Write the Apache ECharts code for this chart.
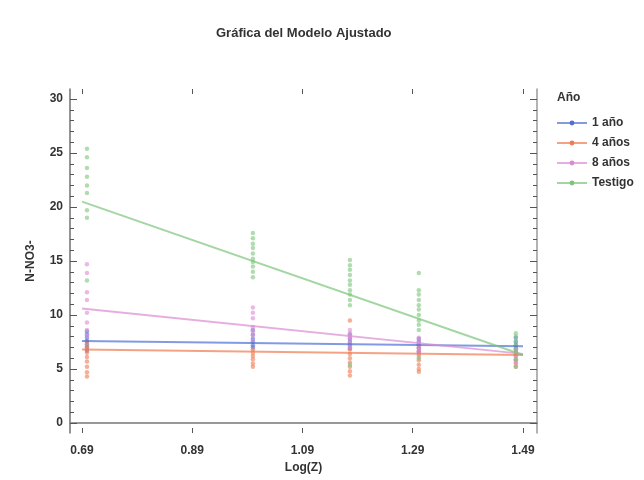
<!DOCTYPE html>
<html>
<head>
<meta charset="utf-8">
<script src="https://cdn.jsdelivr.net/npm/echarts@6/dist/echarts.min.js"></script>
<style>
  html, body { margin: 0; padding: 0; background: #ffffff; }
  #chart { width: 644px; height: 480px; }
</style>
</head>
<body>
<div id="chart"></div>
<script>
// Sampling depths on the log scale: log10 of 5, 10, 15, 20, 30
const depths = [0.699, 1.0, 1.176, 1.301, 1.477];
const xTickLabels = ['0.69', '0.89', '1.09', '1.29', '1.49'];
const yTickLabels = ['0', '5', '10', '15', '20', '25', '30'];
const groups = ['1 año', '4 años', '8 años', 'Testigo'];

// Fitted straight lines, evaluated at both ends of the labelled range
const fitX = [0.69, 1.49];
const fit1 = [7.6, 7.1];
const fit4 = [6.8, 6.3];
const fit8 = [10.6, 6.4];
const fitT = [20.5, 6.3];

// Observations, one list per depth
const obs1 = [
  [8.5, 8.2, 7.9, 7.6, 7.3, 7.0, 6.7],
  [8.6, 8.2, 7.8, 7.5, 7.2, 7.0],
  [8.2, 7.8, 7.5, 7.2, 6.9],
  [7.8, 7.5, 7.2, 6.9, 6.6],
  [7.9, 7.5, 7.2, 6.9, 6.5]
];
const obs4 = [
  [7.5, 7.1, 6.8, 6.5, 6.1, 5.7, 5.2, 4.7, 4.3],
  [6.8, 6.5, 6.2, 5.9, 5.5, 5.2],
  [9.5, 6.8, 6.4, 6.0, 5.6, 5.2, 4.8, 4.4],
  [7.0, 6.6, 6.2, 5.8, 5.4, 5.0, 4.75],
  [6.6, 6.2, 5.8, 5.5, 5.2]
];
const obs8 = [
  [14.7, 13.9, 12.1, 11.4, 10.2, 9.3, 8.6, 8.1],
  [10.7, 10.2, 9.7, 8.9, 8.5, 8.1, 7.6],
  [8.6, 8.3, 8.0, 7.7, 7.4, 7.0],
  [7.9, 7.6, 7.3, 7.0, 6.7, 6.4],
  [6.8, 6.5, 6.2, 5.9, 5.6]
];
const obsT = [
  [25.4, 24.6, 23.6, 22.8, 22.0, 21.3, 19.7, 19.0, 13.2],
  [17.6, 17.1, 16.6, 16.2, 15.7, 15.2, 14.9, 14.5, 14.0, 13.5],
  [15.1, 14.6, 14.2, 13.7, 13.2, 12.8, 12.3, 11.9, 11.4, 10.9, 5.4],
  [13.9, 12.3, 11.9, 11.4, 10.9, 10.5, 10.0, 9.5, 9.1, 8.6, 6.0],
  [8.3, 8.0, 7.6, 7.2, 6.8, 6.4, 5.9, 5.2]
];

const colors = ['#4d6fd6', '#f07a52', '#dc8ad2', '#7cc47c'];
const fits = [fit1, fit4, fit8, fitT];
const obs = [obs1, obs4, obs8, obsT];

// Plot frame, plus the box spanned by the labelled tick range
const W = 644, H = 480;
const frame = { left: 70, right: 107, top: 89, bottom: 47 };
const inner = { left: 82, right: 121, top: 99, bottom: 57 };
const xLo = 0.69, xHi = 1.49, yLo = 0, yHi = 30;
const pxX = (W - inner.left - inner.right) / (xHi - xLo);
const pxY = (H - inner.top - inner.bottom) / (yHi - yLo);
const xMin = xLo - (inner.left - frame.left) / pxX;
const xMax = xHi + (inner.right - frame.right) / pxX;
const yMin = yLo - (inner.bottom - frame.bottom) / pxY;
const yMax = yHi + (inner.top - frame.top) / pxY;

const font = 'Liberation Sans, Arial, sans-serif';
const txt = { fontFamily: font, fontSize: 12, fontWeight: 'bold', color: '#333' };
const darkLine = { show: true, lineStyle: { color: '#707070', width: 1.5 } };
const lightLine = { show: true, lineStyle: { color: '#9a9a9a', width: 1.5 } };
const tickStyle = { color: '#555', width: 1 };

function frameAxis(extra) {
  return Object.assign({
    type: 'value', gridIndex: 0,
    axisTick: { show: false }, axisLabel: { show: false },
    splitLine: { show: false }
  }, extra);
}
function hiddenAxis(gridIndex) {
  return { type: 'value', gridIndex: gridIndex, show: false, min: 0, max: 1 };
}

// Tick-only axes: y ticks live in grid 1 (frame width, tick height),
// x ticks in grid 2 (tick width, frame height)
function yTickAxis(pos, withLabels) {
  return {
    type: 'value', gridIndex: 1, position: pos,
    min: yLo, max: yHi, interval: 5,
    axisLine: { show: false }, splitLine: { show: false },
    axisTick: { inside: true, length: 7, lineStyle: tickStyle },
    minorTick: { show: true, splitNumber: 5, length: 4, lineStyle: tickStyle },
    axisLabel: withLabels
      ? Object.assign({ margin: 7, formatter: v => yTickLabels[Math.round(v / 5)] }, txt)
      : { show: false }
  };
}
function xTickAxis(pos, withLabels) {
  return {
    type: 'value', gridIndex: 2, position: pos,
    min: 0, max: xHi - xLo, interval: 0.2,
    axisLine: { show: false }, splitLine: { show: false },
    axisTick: { inside: true, length: 5, lineStyle: tickStyle },
    axisLabel: withLabels
      ? Object.assign({ margin: 12, formatter: v => xTickLabels[Math.round(v / 0.2)] }, txt)
      : { show: false }
  };
}

const series = [];
groups.forEach((g, i) => {
  series.push({
    name: g, type: 'line', xAxisIndex: 0, yAxisIndex: 0,
    data: fitX.map((x, k) => [x, fits[i][k]]),
    symbol: 'circle', symbolSize: 5, showSymbol: false,
    lineStyle: { color: colors[i], width: 2, opacity: 0.7 },
    itemStyle: { color: colors[i] },
    emphasis: { disabled: true }, z: 3
  });
});
groups.forEach((g, i) => {
  const pts = [];
  obs[i].forEach((vals, d) => vals.forEach(v => pts.push([depths[d], v])));
  series.push({
    name: g, type: 'scatter', xAxisIndex: 0, yAxisIndex: 0,
    data: pts, symbol: 'circle', symbolSize: 4.5,
    itemStyle: { color: colors[i], opacity: 0.6 },
    emphasis: { disabled: true }, z: 2
  });
});

const chart = echarts.init(document.getElementById('chart'), null, { renderer: 'canvas' });
chart.setOption({
  animation: false,
  backgroundColor: '#ffffff',
  title: [
    { text: 'Gráfica del Modelo Ajustado', left: 216, top: 27, padding: 0,
      textStyle: Object.assign({}, txt, { fontSize: 13 }) },
    { text: 'Año', left: 557, top: 92, padding: 0, textStyle: txt }
  ],
  legend: {
    orient: 'vertical', left: 556, top: 116, padding: 0,
    itemWidth: 30, itemHeight: 6, itemGap: 6,
    data: groups,
    textStyle: Object.assign({ lineHeight: 14 }, txt),
    selectedMode: false
  },
  grid: [
    Object.assign({}, frame),
    { left: frame.left, right: frame.right, top: inner.top, bottom: inner.bottom },
    { left: inner.left, right: inner.right, top: frame.top, bottom: frame.bottom }
  ],
  xAxis: [
    frameAxis({ position: 'bottom', min: xMin, max: xMax, axisLine: darkLine,
      name: 'Log(Z)', nameLocation: 'middle', nameGap: 29, nameTextStyle: txt }),
    frameAxis({ position: 'top', min: xMin, max: xMax, axisLine: lightLine }),
    hiddenAxis(1),
    xTickAxis('bottom', true),
    xTickAxis('top', false)
  ],
  yAxis: [
    frameAxis({ position: 'left', min: yMin, max: yMax, axisLine: darkLine,
      name: 'N-NO3-', nameLocation: 'middle', nameGap: 33, nameRotate: 90, nameTextStyle: txt }),
    frameAxis({ position: 'right', min: yMin, max: yMax, axisLine: lightLine }),
    yTickAxis('left', true),
    yTickAxis('right', false),
    hiddenAxis(2)
  ],
  series: series
});
</script>
</body>
</html>
